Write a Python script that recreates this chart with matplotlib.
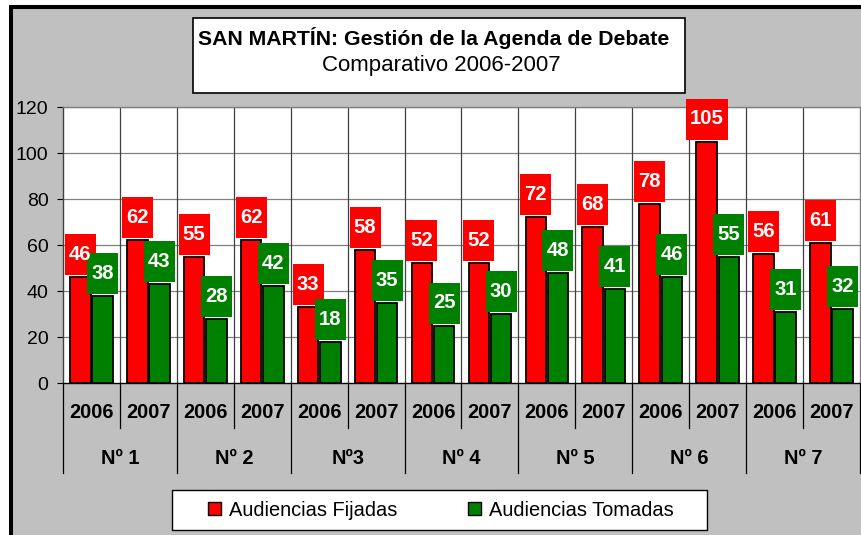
import matplotlib
matplotlib.use("Agg")
import matplotlib.pyplot as plt
from matplotlib.patches import Rectangle, Patch
from matplotlib.transforms import blended_transform_factory

plt.rcParams["font.family"] = ["Liberation Sans", "DejaVu Sans"]

# data
groups = ["Nº 1", "Nº 2", "Nº3", "Nº 4", "Nº 5", "Nº 6", "Nº 7"]
years = ["2006", "2007"]
fijadas = [46, 62, 55, 62, 33, 58, 52, 52, 72, 68, 78, 105, 56, 61]
tomadas = [38, 43, 28, 42, 18, 35, 25, 30, 48, 41, 46, 55, 31, 32]
y_ticks = [0, 20, 40, 60, 80, 100, 120]

RED = "#FF0000"
GREEN = "#008000"
GRAY_BG = "#C0C0C0"

W, H = 862, 535
fig = plt.figure(figsize=(W / 100, H / 100), dpi=100)
fig.patch.set_facecolor("white")

# gray chart area with heavy black border (left/top visible)
fig.patches.append(Rectangle((11 / W, -0.1), 1.2, 1 - 7 / H + 0.1,
                             transform=fig.transFigure, facecolor=GRAY_BG,
                             edgecolor="black", linewidth=2.9, zorder=-10))

ax = fig.add_axes([63 / W, (H - 383) / H, 797 / W, 276 / H])
ax.set_facecolor("white")

n = len(fijadas)
x = list(range(n))
bw = 0.36
off = 0.195

ax.bar([i - off for i in x], fijadas, width=bw, color=RED, edgecolor="black",
       linewidth=1.3, zorder=3)
ax.bar([i + off for i in x], tomadas, width=bw, color=GREEN, edgecolor="black",
       linewidth=1.3, zorder=3)

ax.set_xlim(-0.5, n - 0.5)
ax.set_ylim(0, 120)
ax.set_yticks(y_ticks)
ax.tick_params(axis="y", labelsize=14, length=4.5, width=0.8, pad=6,
               color="black")
ax.set_xticks([])

# grid: horizontal gray, vertical at category boundaries
for v in y_ticks[1:]:
    ax.axhline(v, color="#808080", linewidth=0.9, zorder=1)
for b in range(1, n):
    ax.axvline(b - 0.5, color="#404040", linewidth=0.9, zorder=1)

for s in ["top", "right"]:
    ax.spines[s].set_color("#808080")
ax.spines["left"].set_color("#404040")
ax.spines["bottom"].set_color("black")
for s in ax.spines.values():
    s.set_linewidth(1.0)

# value label boxes sized in pixels
bb = ax.get_window_extent()
px_x = n / bb.width
px_y = 120 / bb.height


def label(xc, v, color):
    txt = str(v)
    w = (len(txt) * 11 + 9) * px_x
    h = 41 * px_y
    y0 = v + 2 * px_y
    ax.add_patch(Rectangle((xc - w / 2, y0), w, h, facecolor=color,
                           edgecolor="none", zorder=5, clip_on=False))
    ax.text(xc, y0 + h / 2, txt, color="white", fontsize=14.6,
            fontweight="bold", ha="center", va="center", zorder=6,
            clip_on=False)


for i in x:
    label(i - off, fijadas[i], RED)
for i in x:
    label(i + off, tomadas[i], GREEN)

# multi-level category axis
tr = blended_transform_factory(ax.transData, ax.transAxes)
y_year = -30 / 276
y_group = -75 / 276
for i in x:
    ax.text(i, y_year, years[i % 2], transform=tr, ha="center", va="center",
            fontsize=14.4, fontweight="bold")
    if i % 2 == 1:
        ax.plot([i - 0.5, i - 0.5], [0, -45 / 276], transform=tr,
                color="black", linewidth=0.9, clip_on=False)
for g, name in enumerate(groups):
    ax.text(2 * g + 0.5, y_group, name, transform=tr, ha="center",
            va="center", fontsize=14.4, fontweight="bold")
for g in range(len(groups) + 1):
    ax.plot([2 * g - 0.5, 2 * g - 0.5], [0, -90 / 276], transform=tr,
            color="black", linewidth=0.9, clip_on=False)

# title box
fig.patches.append(Rectangle((193 / W, 1 - 93 / H), 492 / W, 75 / H,
                             transform=fig.transFigure, facecolor="white",
                             edgecolor="black", linewidth=1.2, zorder=2))
fig.text(434 / W, 1 - 38 / H, "SAN MARTÍN: Gestión de la Agenda de Debate",
         ha="center", va="center", fontsize=15.3, fontweight="bold", zorder=3)
fig.text(441 / W, 1 - 66 / H, "Comparativo 2006-2007", ha="center",
         va="center", fontsize=16, zorder=3)

# legend box
fig.patches.append(Rectangle((172 / W, 1 - 530 / H), 535 / W, 40 / H,
                             transform=fig.transFigure, facecolor="white",
                             edgecolor="black", linewidth=1.0, zorder=2))
handles = [Patch(facecolor=RED, edgecolor="black", linewidth=1.0),
           Patch(facecolor=GREEN, edgecolor="black", linewidth=1.0)]
leg = fig.legend(handles, ["Audiencias Fijadas", "Audiencias Tomadas"],
                 loc="center", bbox_to_anchor=(441 / W, 1 - 510 / H),
                 ncol=2, frameon=False, fontsize=14.4, handlelength=0.65,
                 handleheight=0.65, handletextpad=0.4, columnspacing=3.5)
leg.set_zorder(3)

fig.savefig("out.png", dpi=100)
